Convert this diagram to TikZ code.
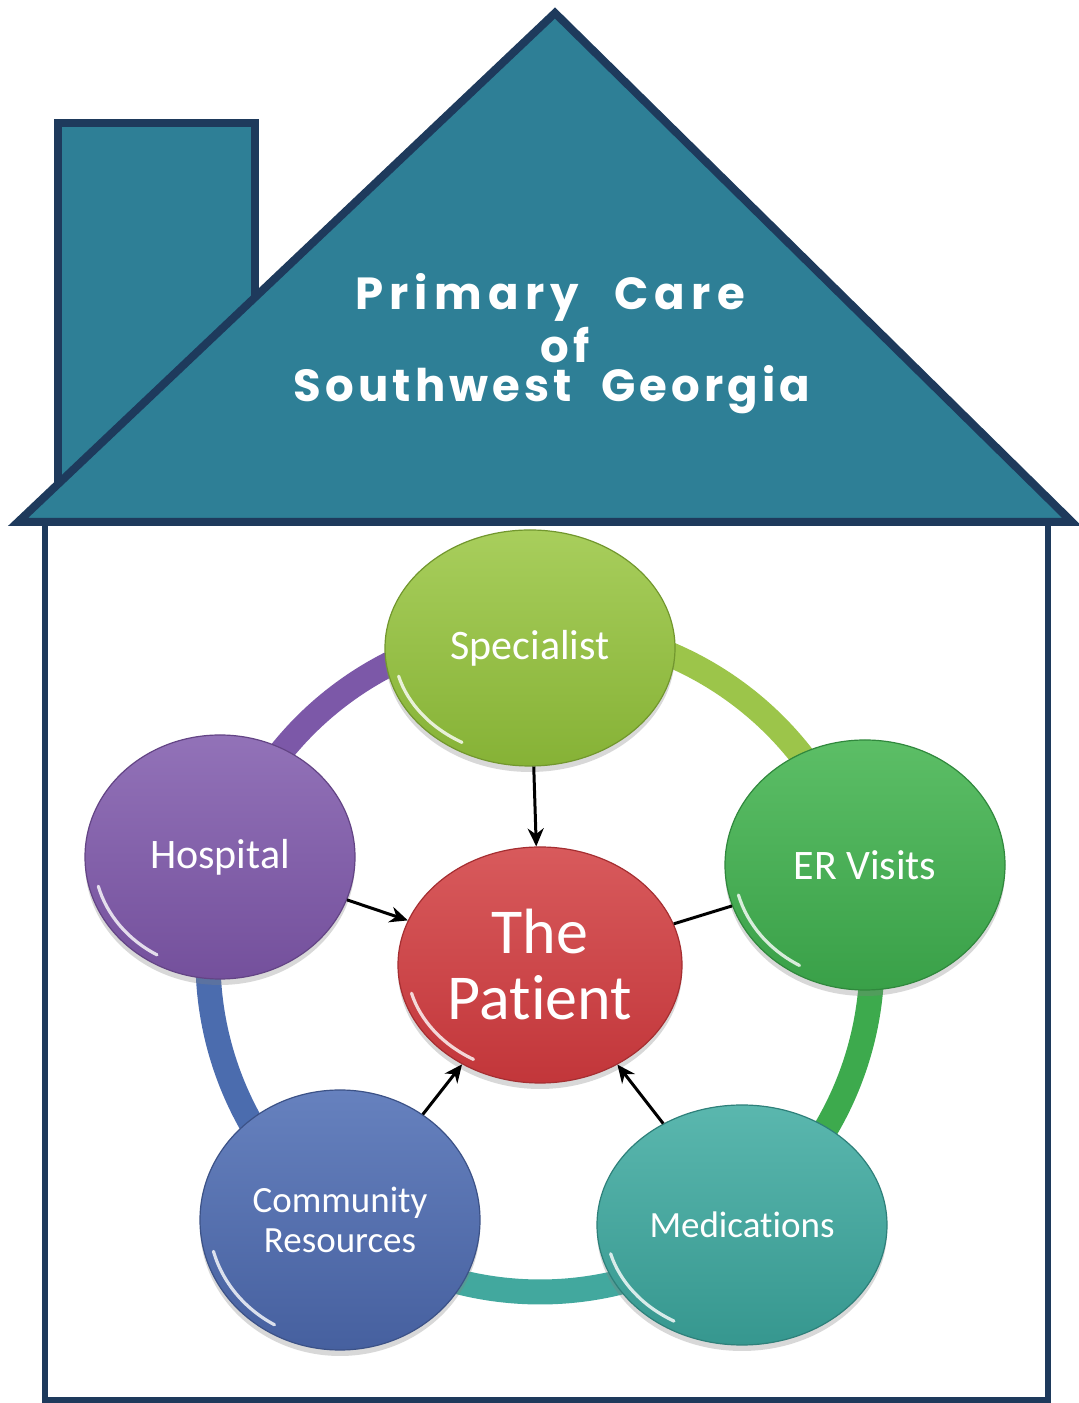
\documentclass[tikz,border=0pt]{standalone}
\usepackage{fontspec}
\setmainfont{Carlito}[Ligatures=NoCommon]
\newfontfamily\titlefont{Poppins}[LetterSpace=9, WordSpace=2.2]
\usetikzlibrary{shapes.geometric,shadows,calc,arrows.meta}
\definecolor{roof}{HTML}{2E7F96}
\definecolor{navy}{HTML}{1E3A5C}
\definecolor{cspec}{HTML}{86B236}\definecolor{cspecL}{HTML}{A8CE5C}
\definecolor{cer}{HTML}{39A048}\definecolor{cerL}{HTML}{5CBE66}
\definecolor{cmed}{HTML}{36978F}\definecolor{cmedL}{HTML}{5AB7AE}
\definecolor{ccom}{HTML}{46609F}\definecolor{ccomL}{HTML}{6681BE}
\definecolor{chos}{HTML}{74509C}\definecolor{chosL}{HTML}{9272B8}
\definecolor{cpat}{HTML}{C2363A}\definecolor{cpatL}{HTML}{D85A5C}
\definecolor{rpur}{HTML}{7C58A8}
\definecolor{rygr}{HTML}{9CC54A}
\definecolor{rgrn}{HTML}{3DAA4D}
\definecolor{rtea}{HTML}{42A89E}
\definecolor{rblu}{HTML}{4B6CAE}
\tikzset{
  ball/.style 2 args={ellipse, inner sep=0pt, top color=#2, bottom color=#1,
    draw=#1!85!black, line width=0.6pt, text=white, align=center,
    drop shadow={shadow xshift=0pt, shadow yshift=-3pt, opacity=0.3}},
  ringseg/.style={line width=12.5pt, draw=#1},
  ar/.style={-{Stealth[length=9pt,width=8pt]}, line width=1.5pt, black},
  ln/.style={line width=1.5pt, black},
  hl/.style={white, opacity=0.8, line width=1.6pt, line cap=round},
  ttl/.style={text=white, font=\titlefont\bfseries\fontsize{22.5}{26}\selectfont},
  lbl/.style={font=\fontsize{21}{25}\selectfont}
}
\begin{document}
\begin{tikzpicture}[x=0.5pt,y=0.5pt]
\useasboundingbox (0,0) rectangle (1078,1403);
% house wall
\draw[navy, line width=3pt, fill=white] (45,3) rectangle (1048,881);
% chimney
\fill[roof] (58,880) rectangle (255,1280);
\draw[navy, line width=4pt] (58,900) -- (58,1280) -- (255,1280) -- (255,1100);
% roof
\draw[navy, line width=4pt, fill=roof, line join=miter] (18,881) -- (555,1390) -- (1072,881) -- cycle;
% title
\node[ttl] (t1) at (550,1106) {\addfontfeatures{LetterSpace=14}Primary Care};
\node[ttl] (t2) at (565,1058) {of};
\node[ttl] (t3) at (552,1013) {Southwest Georgia};
% ring
\coordinate (rc) at (540,443);
\draw[ringseg=rpur] ($(rc)+(92.8:332)$) arc[start angle=92.8, end angle=162.2, radius=332];
\draw[ringseg=rygr] ($(rc)+(16.3:332)$) arc[start angle=16.3, end angle=92.8, radius=332];
\draw[ringseg=rgrn] ($(rc)+(-52.7:332)$) arc[start angle=-52.7, end angle=16.3, radius=332];
\draw[ringseg=rtea] ($(rc)+(-127.6:332)$) arc[start angle=-127.6, end angle=-52.7, radius=332];
\draw[ringseg=rblu] ($(rc)+(162.2:332)$) arc[start angle=162.2, end angle=232.4, radius=332];
% nodes
\node[ball={cspec}{cspecL}, minimum width=145pt, minimum height=118pt, lbl] (spec) at (530,755) {Specialist};
\node[ball={cer}{cerL}, minimum width=140pt, minimum height=125pt, lbl] (er) at (865,538) {ER Visits};
\node[ball={cmed}{cmedL}, minimum width=145pt, minimum height=120pt, font=\fontsize{18.5}{22}\selectfont] (med) at (742,178) {Medications};
\node[ball={ccom}{ccomL}, minimum width=140pt, minimum height=130pt, font=\fontsize{18.5}{20}\selectfont] (com) at (340,183) {Community\\Resources};
\node[ball={chos}{chosL}, minimum width=135pt, minimum height=122pt, lbl] (hos) at (220,546) {Hospital};
\node[ball={cpat}{cpatL}, minimum width=142pt, minimum height=118pt, font=\fontsize{32}{33}\selectfont] (pat) at (540,438) {The\\Patient};
% highlights
\foreach \n/\rx/\ry in {spec/136/109, er/131/116, med/136/111, com/131/121, hos/126/113, pat/133/109}{
  \draw[hl] ($(\n.center)+({\rx*cos(195)},{\ry*sin(195)})$) arc[start angle=195, end angle=240, x radius=\rx, y radius=\ry];
}
% connectors
\draw[ar] (spec) -- (pat);
\draw[ar] (hos) -- (pat);
\draw[ln] (er) -- (pat);
\draw[ar] (com) -- (pat);
\draw[ar] (med) -- (pat);
\end{tikzpicture}
\end{document}
